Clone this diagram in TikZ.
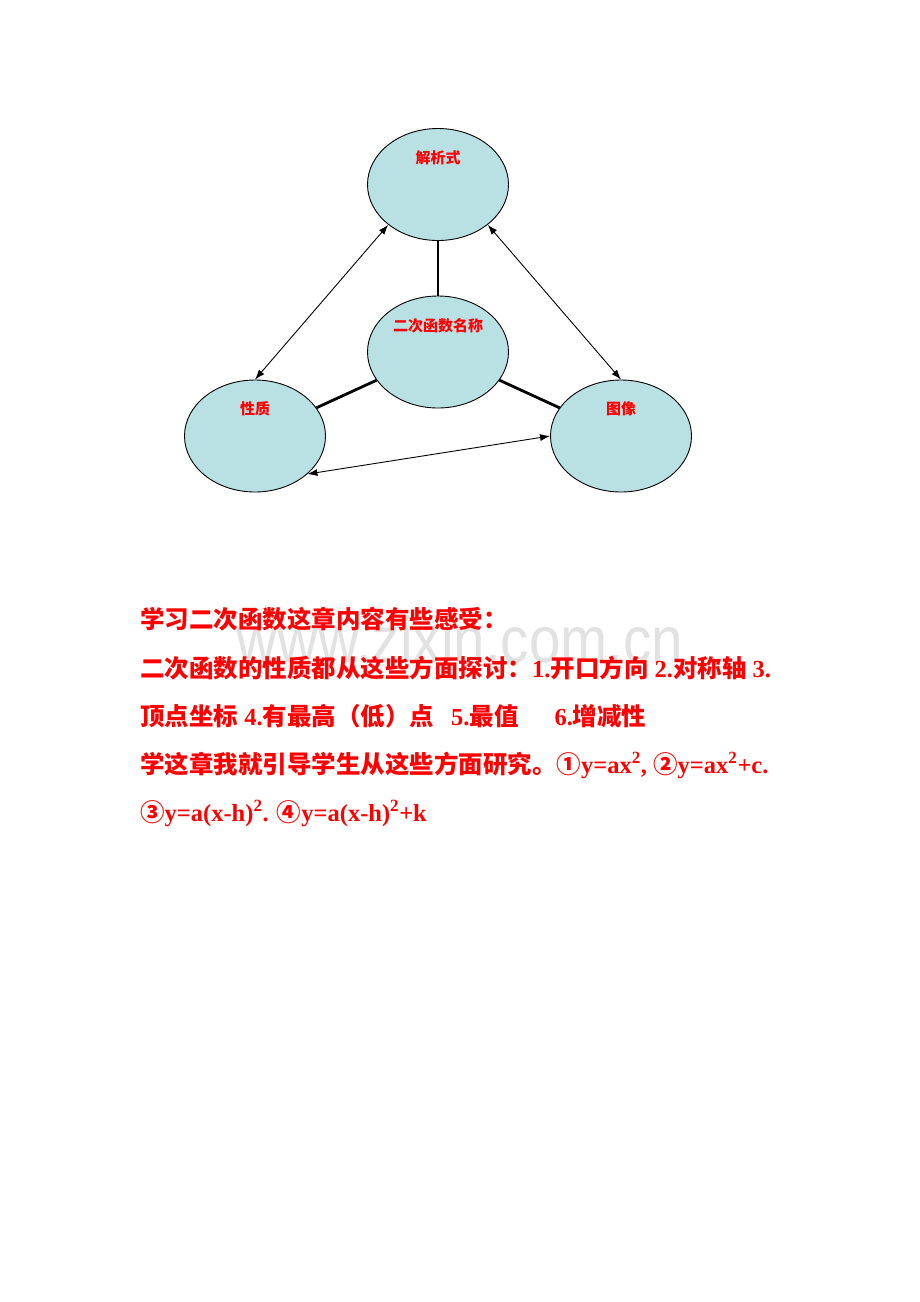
\documentclass[tikz,border=0pt]{standalone}
\usepackage{fontspec}
\setmainfont{Liberation Serif}[BoldFont={Liberation Serif Bold}]
\newfontfamily\cjk{Noto Sans CJK SC}
\newfontfamily\wmfont{Liberation Sans}
\newcommand\zh[1]{{\cjk #1}}
\usetikzlibrary{shapes.geometric,arrows.meta}
\definecolor{blobfill}{RGB}{185,224,226}
\definecolor{txtred}{RGB}{255,0,0}
\definecolor{wmgray}{RGB}{226,226,226}
\begin{document}
\begin{tikzpicture}[x=1pt,y=-1pt,
  blobst/.style={ellipse,draw=black,line width=0.9pt,fill=blobfill,
    minimum width=141pt,minimum height=112pt,inner sep=0pt},
  lab/.style={text=txtred,font=\cjk\bfseries\fontsize{15}{18}\selectfont,inner sep=0pt},
  heavy/.style={line width=2.8pt},
  arr/.style={{Latex[length=10pt,width=7pt]}-{Latex[length=10pt,width=7pt]},line width=0.9pt},
  txt/.style={anchor=base west,text=txtred,font=\bfseries\fontsize{24.5}{30}\selectfont,inner sep=0pt},
  wm/.style={anchor=base,text=wmgray,font=\wmfont\fontsize{65}{70}\selectfont,inner sep=0pt,xscale=0.87}]
\useasboundingbox (0,0) rectangle (920,1302);
\fill[white] (0,0) rectangle (920,1302);
% diagram
\node[blobst] (t) at (438,184.5) {};
\node[blobst] (c) at (438,352) {};
\node[blobst] (l) at (255,436) {};
\node[blobst] (r) at (621,436) {};
\node[lab] (tl) at ([yshift=-30pt]t.north) {解析式};
\node[lab] (cl) at ([yshift=-30pt]c.north) {二次函数名称};
\node[lab] (ll) at ([yshift=-29pt]l.north) {性质};
\node[lab] (rl) at ([yshift=-29pt]r.north) {图像};
\draw[heavy] (t) -- (c);
\draw[heavy] (c) -- (l);
\draw[heavy] (c) -- (r);
\draw[arr] (t.219) -- (l.90);
\draw[arr] (t.321) -- (r.90);
\draw[arr] (l.324) -- (r.180);
% watermark
\node[wm] (mark) at (460,662) {www.zixin.com.cn};
% text
\node[txt] (L1) at (140,628) {\zh{学习二次函数这章内容有些感受：}};
\node[txt] (L2) at (140,677) {\zh{二次函数的性质都从这些方面探讨：}1.\zh{开口方向} 2.\zh{对称轴} 3.};
\node[txt] (L3) at (140,725) {\zh{顶点坐标} 4.\zh{有最高（低）点}\hspace{17pt}5.\zh{最值}\hspace{36pt}6.\zh{增减性}};
\node[txt] (L4) at (140,773) {\zh{学这章我就引导学生从这些方面研究。①}y=ax\textsuperscript{2}, \zh{②}y=ax\textsuperscript{2}+c.};
\node[txt] (L5) at (140,821) {\zh{③}y=a(x-h)\textsuperscript{2}. \zh{④}y=a(x-h)\textsuperscript{2}+k};
\end{tikzpicture}
\end{document}
